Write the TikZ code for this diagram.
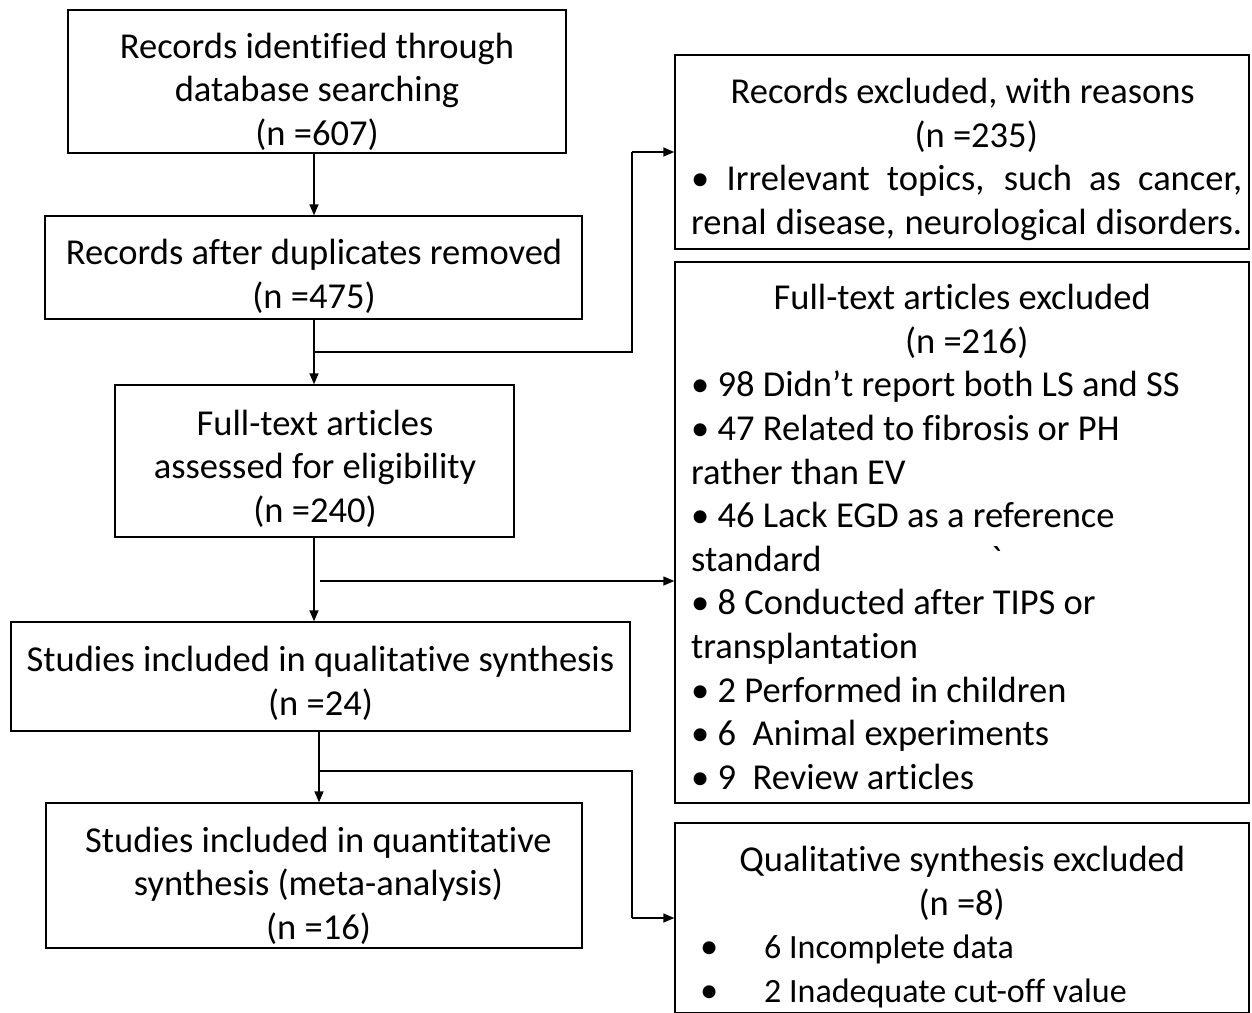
\documentclass[tikz,border=0pt]{standalone}
\usepackage{fontspec}
\newfontfamily\calfont[Ligatures=NoCommon]{Carlito}
\usetikzlibrary{arrows.meta}
\begin{document}
\begin{tikzpicture}[x=1pt,y=-1pt,
  box/.style={draw, line width=1.4pt, inner sep=0pt},
  txt/.style={inner sep=0pt, align=center, font=\calfont\fontsize{36.5}{43.6}\selectfont},
  txtl/.style={inner sep=0pt, align=flush left, text width=551pt, anchor=north west, font=\calfont\fontsize{36.5}{43.6}\selectfont},
  arr/.style={line width=1.4pt, -{Triangle[length=11pt,width=9pt]}}]
\clip (0,0) rectangle (1252,1012);
\fill[white] (0,0) rectangle (1252,1012);
% left boxes
\node[box, minimum width=498pt, minimum height=143pt] (a) at (317,81.5) {};
\node[box, minimum width=537pt, minimum height=103pt] (b) at (313.5,267.5) {};
\node[box, minimum width=399pt, minimum height=152pt] (c) at (314.5,461) {};
\node[box, minimum width=619pt, minimum height=109pt] (d) at (320.5,676.5) {};
\node[box, minimum width=536pt, minimum height=145pt] (e) at (314,875.5) {};
% right boxes
\node[box, minimum width=574pt, minimum height=194pt] (r1) at (962,152) {};
\node[box, minimum width=574pt, minimum height=541pt] (r2) at (962,532.5) {};
\node[box, minimum width=574pt, minimum height=190pt] (r3) at (962,918) {};
% texts
\node[txt] (ta) at (317,93) {\strut Records identified through\\database searching\\(n =607)\strut};
\node[txt] (tb) at (314,278) {\strut Records after duplicates removed\\(n =475)\strut};
\node[txt] (tc) at (315,470) {\strut Full-text articles\\assessed for eligibility\\(n =240)\strut};
\node[txt] (td) at (320.5,685) {\strut Studies included in qualitative synthesis\\(n =24)\strut};
\node[txt] (te) at (318.5,887) {\strut Studies included in quantitative\\synthesis (meta-analysis)\\(n =16)\strut};
\node[txtl] (tr1) at (691,73) {\strut\makebox[551pt]{\hspace{-8pt}Records excluded, with reasons}\\
\makebox[551pt]{\hspace{19pt}(n =235)}\\
\makebox[551pt][s]{• Irrelevant topics, such as cancer,}\\
\makebox[551pt][s]{renal disease, neurological disorders.}};
\node[txtl] (tr2) at (691,279) {\strut\makebox[551pt]{\hspace{-9pt}Full-text articles excluded}\\
\makebox[551pt]{(n =216)}\\
• 98 Didn’t report both LS and SS\\
• 47 Related to fibrosis or PH\\
rather than EV\\
• 46 Lack EGD as a reference\\
\makebox[300pt][l]{standard}`\\
• 8 Conducted after TIPS or\\
transplantation\\
• 2 Performed in children\\
• 6\ \ Animal experiments\\
• 9\ \ Review articles};
\node[txtl] (tr3) at (691,841) {\strut\makebox[551pt]{\hspace{-9pt}Qualitative synthesis excluded}\\
\makebox[551pt]{\hspace{-10pt}(n =8)}\\
\makebox[73pt][l]{\hspace{9pt}•}{\fontsize{34}{43.6}\selectfont 6 Incomplete data}\\
\makebox[73pt][l]{\hspace{9pt}•}{\fontsize{34}{43.6}\selectfont 2 Inadequate cut-off value}};
% connectors
\coordinate (j1) at (314,352);
\coordinate (j2) at (320,581);
\coordinate (j3) at (319,771);
\draw[arr] (a.south -| j1) -- (j1 |- b.north);
\draw[arr] (b.south -| j1) -- (j1 |- c.north);
\draw[line width=1.4pt] (j1) -- (632,352) -- (632,152);
\draw[arr] (632,152) -- (r1.west);
\draw[arr] (c.south -| j1) -- (j1 |- d.north);
\draw[arr] (j2) -- (j2 -| r2.west);
\draw[arr] (d.south -| j3) -- (j3 |- e.north);
\draw[line width=1.4pt] (j3) -- (632,771) -- (632,918);
\draw[arr] (632,918) -- (r3.west);
\end{tikzpicture}
\end{document}
